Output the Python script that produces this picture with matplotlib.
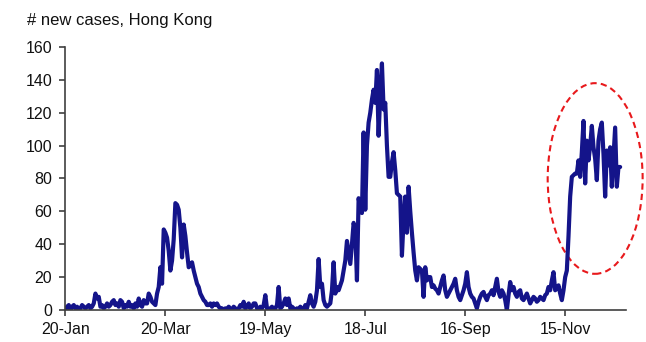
import matplotlib
matplotlib.use("Agg")
import matplotlib.pyplot as plt
import matplotlib.dates as mdates
from matplotlib.patches import Ellipse
import pandas as pd

# Daily new COVID-19 cases reported in Hong Kong, starting 20 Jan 2020
start_date = "2020-01-20"
new_cases = [
    0, 2, 3, 0, 2, 3, 1, 2, 0, 1,
    3, 2, 1, 2, 3, 1, 2, 4, 10, 7,
    8, 2, 3, 1, 2, 4, 2, 3, 5, 6,
    3, 4, 2, 6, 5, 1, 3, 2, 5, 2,
    3, 1, 4, 2, 7, 3, 2, 6, 4, 4,
    10, 8, 5, 4, 3, 10, 14, 26, 16, 49,
    47, 44, 36, 24, 30, 43, 65, 64, 61, 50,
    32, 52, 45, 35, 26, 27, 29, 24, 20, 16,
    14, 10, 8, 6, 5, 3, 3, 4, 2, 4,
    3, 4, 2, 1, 1, 0, 1, 0, 2, 1,
    0, 2, 1, 0, 1, 3, 2, 5, 1, 2,
    4, 1, 2, 4, 4, 1, 0, 2, 1, 3,
    9, 1, 0, 1, 2, 0, 1, 3, 14, 1,
    2, 4, 7, 3, 7, 1, 2, 1, 0, 1,
    0, 2, 1, 0, 3, 1, 5, 9, 4, 2,
    5, 12, 31, 14, 16, 6, 3, 2, 3, 4,
    12, 29, 10, 14, 12, 15, 18, 24, 30, 42,
    35, 28, 40, 53, 48, 18, 68, 62, 59, 108,
    61, 100, 114, 120, 128, 134, 126, 146, 106, 132,
    150, 122, 126, 100, 81, 81, 90, 96, 85, 71,
    70, 69, 33, 55, 69, 47, 75, 60, 47, 35,
    24, 18, 26, 25, 24, 8, 26, 18, 20, 20,
    14, 15, 13, 12, 10, 14, 18, 21, 12, 8,
    10, 12, 14, 16, 19, 12, 8, 6, 9, 12,
    16, 23, 14, 10, 8, 7, 4, 1, 5, 8,
    10, 11, 8, 6, 9, 10, 12, 9, 14, 19,
    11, 8, 12, 10, 6, 0, 9, 17, 12, 14,
    10, 8, 11, 12, 7, 6, 8, 10, 7, 4,
    6, 8, 7, 5, 6, 8, 7, 6, 9, 10,
    14, 12, 18, 23, 12, 13, 15, 10, 6, 12,
    20, 24, 45, 69, 81, 82, 83, 83, 91, 81,
    96, 115, 77, 103, 91, 100, 112, 99, 92, 79,
    103, 110, 114, 95, 69, 97, 88, 99, 75, 93,
    111, 75, 87, 87,
]
tick_dates = ["2020-01-20", "2020-03-20", "2020-05-19",
              "2020-07-18", "2020-09-16", "2020-11-15"]
tick_labels = ["20-Jan", "20-Mar", "19-May", "18-Jul", "16-Sep", "15-Nov"]
y_ticks = [0, 20, 40, 60, 80, 100, 120, 140, 160]

# Highlighted recent wave (centre date, centre value, span in days, span in cases)
highlight_center = ("2020-12-03", 80)
highlight_size = (57, 116)

plt.rcParams["font.family"] = ["Liberation Sans", "DejaVu Sans"]

dates = pd.date_range(start_date, periods=len(new_cases), freq="D")

fig = plt.figure(figsize=(6.46, 3.42), dpi=100)
ax = fig.add_axes([0.1, 0.0936, 0.869, 0.769])

ax.plot(dates, new_cases, color="#14148a", linewidth=3.0,
        solid_joinstyle="round", solid_capstyle="round")

x0 = mdates.date2num(pd.Timestamp(start_date))
ax.set_xlim(x0 - 0.5, x0 + 336.5)
ax.set_ylim(0, 160)
ax.set_yticks(y_ticks)
ax.set_xticks(pd.to_datetime(tick_dates))
ax.set_xticklabels(tick_labels)

for side in ("top", "right"):
    ax.spines[side].set_visible(False)
for side in ("left", "bottom"):
    ax.spines[side].set_color("#404040")
    ax.spines[side].set_linewidth(1.2)

ax.tick_params(axis="both", direction="out", length=4, width=1.2,
               color="#404040", labelsize=11.5, labelcolor="#111111")
ax.tick_params(axis="y", pad=5)
ax.tick_params(axis="x", pad=5)

cx = mdates.date2num(pd.Timestamp(highlight_center[0]))
ell = Ellipse((cx, highlight_center[1]), highlight_size[0], highlight_size[1],
              fill=False, edgecolor="#e8191c", linewidth=1.5,
              linestyle=(0, (3, 2)), clip_on=False)
ax.add_patch(ell)

fig.text(27 / 646, 1 - 25 / 342, "# new cases, Hong Kong", fontsize=12,
         color="#111111", va="baseline", ha="left")

fig.savefig("out.png", dpi=100)
